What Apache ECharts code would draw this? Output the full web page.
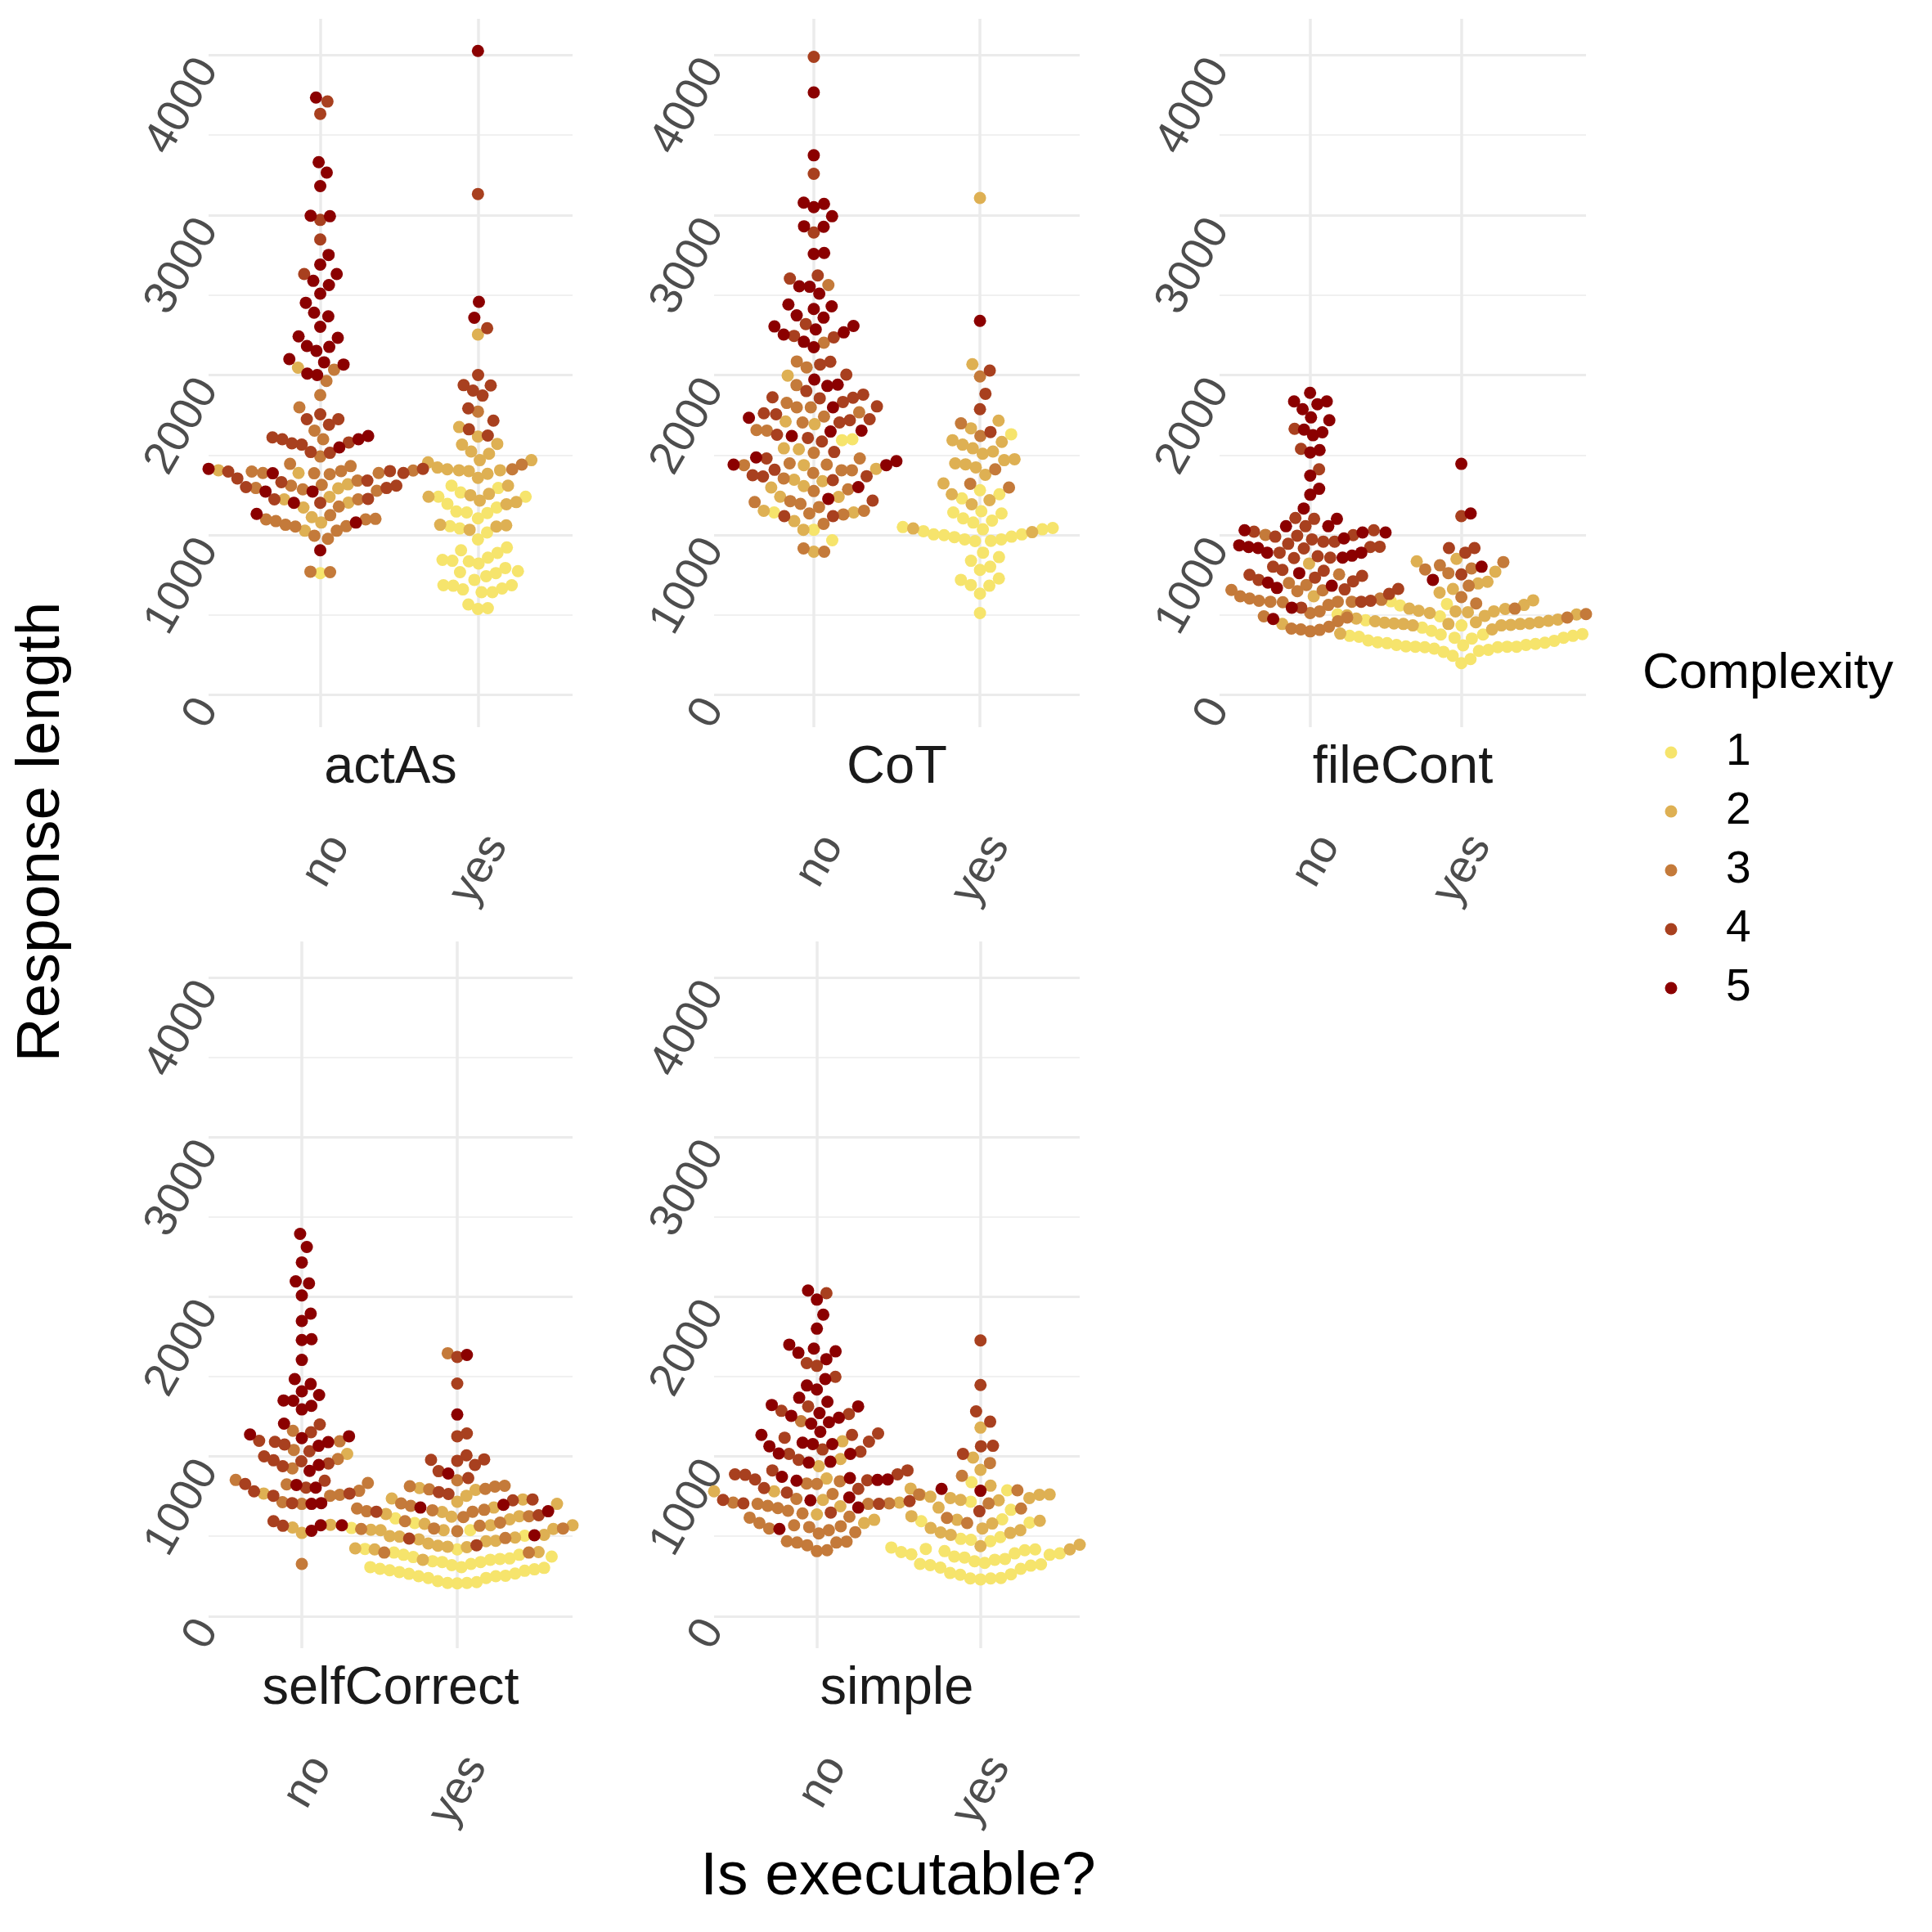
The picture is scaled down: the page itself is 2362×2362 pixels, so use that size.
<!DOCTYPE html>
<html>
<head>
<meta charset="utf-8">
<script src="https://cdn.jsdelivr.net/npm/echarts@6/dist/echarts.min.js"></script>
<style>
html,body{margin:0;padding:0;background:#fff;}
#chart{width:2362px;height:2362px;}
</style>
</head>
<body>
<div id="chart"></div>
<script>
// ---------------- DATA ----------------
const prompts = ['actAs', 'CoT', 'fileCont', 'selfCorrect', 'simple'];
const execLevels = ['no', 'yes'];
const complexityLevels = ['1', '2', '3', '4', '5'];
const yTicks = [0, 1000, 2000, 3000, 4000];
const yMinorTicks = [500, 1500, 2500, 3500];

// Response lengths per group, split by complexity [c1, c2, c3, c4, c5]
const actAs_no = [
  [762],
  [2046,1388,1405,1238,1223,1317,1292,1203,1172,1078,1112,1027],
  [2034,1963,1875,1798,1653,1491,1599,1445,1400,1388,1380,1431,1386,1388,1403,1397,1277,1340,1223,1286,1294,1309,1314,1124,1178,1098,1087,1064,1053,996,976,1027,1055,1098,1101,771,768],
  [3710,3633,2970,2848,2632,1755,1724,1690,1724,1599,1579,1610,1519,1514,1565,1573,1400,1397,1388,1340,1354,1414,1309,1300,1223,1201,1294,1331,1226],
  [3735,3331,3266,3181,2996,2993,2751,2691,2632,2589,2563,2509,2452,2390,2367,2302,2242,2233,2182,2176,2151,2100,2080,2066,2009,2000,1619,1599,1548,1414,1386,1272,1272,1201,1132,1078,905]
];
const actAs_yes = [
  [1309,1240,1294,1147,1138,1104,1172,1195,1266,1240,1141,1055,1041,1016,973,922,905,888,845,839,822,768,794,743,774,836,859,762,720,686,660,683,643,643,666,686,566,538,543],
  [2253,1675,1616,1565,1570,1522,1508,1468,1411,1405,1400,1357,1422,1383,1405,1454,1468,1309,1257,1240,1215,1206,1192,1249,1064,1033,1053,1061],
  [1772,1440,1411],
  [3132,2293,2000,1935,1937,1903,1872,1792,1715,1661,1622],
  [4026,2458,2358]
];
const CoT_no = [
  [1599,1593,1141,1033,967],
  [1997,1693,1710,1536,1542,1437,1337,1346,1414,1306,1297,1238,1240,1152,1141,1087,1033,896],
  [2563,2202,2048,2085,1937,1798,1798,1826,1741,1656,1704,1767,1653,1479,1448,1514,1437,1388,1440,1354,1405,1405,1286,1275,1212,1175,1195,1206,1135,1129,1152,1070,916,896],
  [3989,3258,2891,2623,2603,2319,2245,2236,2066,2083,2003,1878,1900,1832,1804,1861,1855,1858,1761,1718,1704,1755,1724,1585,1607,1627,1519,1479,1368,1343,1408,1366,1374,1215,1118,1118],
  [3767,3374,3078,3050,3070,2993,2930,2927,2757,2763,2509,2552,2555,2413,2430,2441,2373,2359,2285,2253,2304,2208,2174,2267,2307,1932,1972,1940,1798,1733,1619,1647,1653,1485,1462,1437,1440,1300,1226]
];
const CoT_yes = [
  [1630,1280,1255,1229,1149,1135,1104,1078,1090,1141,1044,1036,1024,1004,999,987,973,962,964,973,990,1004,1036,1050,890,839,782,802,862,720,688,683,728,634,512],
  [3107,2068,1715,1582,1593,1667,1522,1542,1565,1508,1448,1423,1474,1442,1468,1377,1323,1218,1192,1255,1018,1041],
  [1991,1698,1619,1411,1297,1320],
  [2028,1883,1787,1644],
  [2339]
];
const fileCont_no = [
  [],
  [822,617,444],
  [1001,754,700,657,688,589,603,603,583,649,580,654,563,583,583,617,492,484,461,415,410,398,407,427,512,523],
  [1664,1539,1411,1101,1107,1055,1021,959,959,973,996,1030,990,999,927,916,859,856,890,945,868,925,782,777,745,802,751,734,720,711,660,663,632,583,546,589],
  [1889,1835,1787,1818,1835,1735,1718,1624,1642,1659,1531,1516,1371,1289,1252,1166,1101,1055,1030,979,1016,1016,1055,925,871,890,936,859,890,919,762,703,669,683,546,475]
];
const fileCont_yes = [
  [586,467,560,569,435,421,492,504,381,364,401,353,313,378,370,358,341,330,324,313,302,302,302,290,270,245,199,225,276,282,299,299,304,310,319,327,339,358,370,378],
  [851,836,771,663,708,640,697,592,563,540,523,498,472,495,538,384,523,512,503,461,452,447,444,444,438,410,435,455,435,444,447,455,464,478,518,526],
  [811,762,791,785,831,683,612,595,572,540,506,484],
  [1118,919,890,919,754],
  [1445,1135,802,720]
];
const selfCorrect_no = [
  [],
  [1016,768,555,521,572],
  [1095,1161,1041,984,925,785,760,834,825,703,714,754,853,327],
  [1201,1152,1092,1075,1098,1001,976,956,939,970,1033,754,828,848,708,768,782,805,566,595],
  [2395,2313,2216,2097,2085,2009,1849,1895,1730,1735,1605,1485,1408,1454,1351,1295,1317,1349,1385,1206,1090,1115,1067,1138,1127,947,910,805,822,708,703,535,569]
];
const selfCorrect_yes = [
  [612,583,538,421,504,552,398,384,373,358,339,327,319,339,344,353,361,370,384,418,307,296,287,276,265,250,239,219,208,205,208,213,239,250,253,267,284,293,302,307],
  [717,791,754,731,703,680,737,802,640,626,569,606,623,652,546,509,501,492,481,469,455,424,472,498,538,538,541,569,578,435,418,353,401,432,441],
  [1647,851,797,814,811,794,663,620,691,816,706,666,654,626,595,566,546,586,657,674,549,489,532,549,398,398],
  [1624,1457,1127,1144,1007,947,979,973,982,908,865,777,731,725,765,654,632,444,486],
  [1636,1263,893,657,697,569,506,680]
];
const simple_no = [
  [],
  [1095,939,984,862,782,782,728,711,637,688,603,583],
  [1221,845,828,831,762,765,703,703,711,734,706,691,677,643,660,617,623,538,583,558,518,549,569,526,563,469,461,444,407,413,461,467],
  [2023,1585,1568,1499,1286,1266,1314,1144,1093,1118,1135,1044,1016,1030,979,913,851,888,913,885,888,856,802,797,774,720,728,706,649,703],
  [1983,2040,1889,1801,1701,1676,1650,1610,1659,1485,1445,1420,1368,1343,1255,1323,1314,1243,1272,1206,1215,1135,1155,1087,1064,1078,1016,1078,1019,967,962,856,873,865,848,853,743,725,680,546]
];
const simple_yes = [
  [839,788,717,606,586,666,595,495,478,469,484,430,384,367,353,344,358,373,393,418,421,407,393,387,401,413,333,324,316,296,262,239,236,230,236,259,270,304,319,327],
  [1181,993,916,817,762,748,728,760,725,740,740,760,799,580,626,680,538,521,509,524,549,552,597,603,447,418,438],
  [959,879,788,706,674,615,583],
  [1727,1448,1283,1218,1067,1064,1016,657],
  [785,797]
];

// ---------------- STYLE / LAYOUT ----------------
const groups = [
  [actAs_no, actAs_yes],
  [CoT_no, CoT_yes],
  [fileCont_no, fileCont_yes],
  [selfCorrect_no, selfCorrect_yes],
  [simple_no, simple_yes]
];
const palette = ['#F6E46C', '#DEB053', '#C47A3A', '#A8401F', '#8B0000'];
const gridBoxes = [
  {left: 255, top: 23, width: 445, height: 866},
  {left: 873, top: 23, width: 447, height: 866},
  {left: 1491, top: 23, width: 448, height: 866},
  {left: 255, top: 1151, width: 445, height: 864},
  {left: 873, top: 1151, width: 447, height: 864}
];
const Y_MIN = -201, Y_MAX = 4227;
const FONT = '"Liberation Sans", Arial, Helvetica, sans-serif';
// beeswarm spacing (x in category units, y in data units)
const SW_DX = 0.0625, SW_DY = 113;

// swarm layout: points in ascending order, each placed at the free position closest to the center
function swarm(vals) {
  const order = vals.map((v, i) => i).sort((a, b) => vals[a] - vals[b] || a - b);
  const px = [], py = [];
  const out = new Array(vals.length);
  for (const i of order) {
    const y = vals[i] / SW_DY;
    const cands = [0];
    const near = [];
    for (let k = 0; k < py.length; k++) {
      const dy = py[k] - y;
      if (Math.abs(dy) < 1) {
        near.push(k);
        const dx = Math.sqrt(1 - dy * dy);
        cands.push(px[k] + dx, px[k] - dx);
      }
    }
    cands.sort((a, b) => Math.abs(a) - Math.abs(b));
    let chosen = 0;
    for (const c of cands) {
      let ok = true;
      for (const k of near) {
        const dx = px[k] - c, dy = py[k] - y;
        if (dx * dx + dy * dy < 1 - 1e-9) { ok = false; break; }
      }
      if (ok) { chosen = c; break; }
    }
    px.push(chosen); py.push(y);
    out[i] = chosen * SW_DX;
  }
  return out;
}

const series = [];
const xRanges = [];
groups.forEach((pair, p) => {
  const byC = [[], [], [], [], []];
  let xmin = 0.4, xmax = 2.6;
  pair.forEach((grp, e) => {
    const vals = [], cx = [];
    grp.forEach((arr, c) => arr.forEach(v => { vals.push(v); cx.push(c); }));
    const offs = swarm(vals);
    vals.forEach((v, i) => {
      const x = e + 1 + offs[i];
      xmin = Math.min(xmin, x); xmax = Math.max(xmax, x);
      byC[cx[i]].push([x, v]);
    });
  });
  xRanges.push([xmin, xmax]);
  byC.forEach((pts, c) => {
    series.push({
      type: 'scatter', name: complexityLevels[c],
      xAxisIndex: p, yAxisIndex: p,
      data: pts, symbol: 'circle', symbolSize: 15,
      itemStyle: {color: palette[c], opacity: 1},
      silent: true, clip: true, z: 2 + c
    });
  });
});

const xAxes = prompts.map((name, i) => ({
  type: 'value', gridIndex: i, min: xRanges[i][0], max: xRanges[i][1],
  name: name, nameLocation: 'middle', nameGap: 50, nameMoveOverlap: false,
  nameTextStyle: {fontSize: 65, color: '#1A1A1A', fontFamily: FONT, verticalAlign: 'middle'},
  axisLine: {show: false},
  axisTick: {show: false, customValues: [1, 2]},
  axisLabel: {
    customValues: [1, 2], formatter: v => execLevels[Math.round(v) - 1],
    rotate: 60, align: 'right', verticalAlign: 'top', lineHeight: 54, margin: 123,
    fontSize: 56, color: '#4D4D4D', fontFamily: FONT
  },
  splitLine: {show: true, lineStyle: {color: '#EBEBEB', width: 3.5}},
  minorSplitLine: {show: false}
}));

const yMajor = prompts.map((_, i) => ({
  type: 'value', gridIndex: i, min: Y_MIN, max: Y_MAX,
  axisLine: {show: false},
  axisTick: {show: false, customValues: yTicks},
  axisLabel: {
    customValues: yTicks, formatter: v => String(v),
    rotate: 60, align: 'right', verticalAlign: 'top', lineHeight: 35, margin: 16,
    fontSize: 56, color: '#4D4D4D', fontFamily: FONT
  },
  splitLine: {show: true, lineStyle: {color: '#EBEBEB', width: 3.2}}
}));
const yMinor = prompts.map((_, i) => ({
  type: 'value', gridIndex: i, min: Y_MIN, max: Y_MAX,
  axisLine: {show: false},
  axisTick: {show: false, customValues: yMinorTicks},
  axisLabel: {show: false, customValues: yMinorTicks},
  splitLine: {show: true, lineStyle: {color: '#EBEBEB', width: 1.6}}
}));

const option = {
  animation: false,
  backgroundColor: '#ffffff',
  textStyle: {fontFamily: FONT},
  grid: gridBoxes.map(g => Object.assign({outerBoundsMode: 'none', containLabel: false}, g)),
  xAxis: xAxes,
  yAxis: yMajor.concat(yMinor),
  legend: {
    data: complexityLevels, orient: 'vertical', left: 2035.5, top: 884,
    itemWidth: 124, itemHeight: 15, itemGap: 0, icon: 'circle', padding: 0,
    selectedMode: false,
    textStyle: {fontSize: 55, lineHeight: 72, color: '#000', fontFamily: FONT}
  },
  graphic: [
    {type: 'text', x: 2008, y: 824, style: {text: 'Complexity', fontSize: 62, fontFamily: FONT, fill: '#000', align: 'left', verticalAlign: 'middle'}},
    {type: 'text', x: 51, y: 1017, rotation: Math.PI / 2, style: {text: 'Response length', fontSize: 75, fontFamily: FONT, fill: '#000', align: 'center', verticalAlign: 'middle'}},
    {type: 'text', x: 1098, y: 2295, style: {text: 'Is executable?', fontSize: 75, fontFamily: FONT, fill: '#000', align: 'center', verticalAlign: 'middle'}}
  ],
  series: series
};

const chart = echarts.init(document.getElementById('chart'), null, {renderer: 'canvas', width: 2362, height: 2362});
chart.setOption(option);
</script>
</body>
</html>
